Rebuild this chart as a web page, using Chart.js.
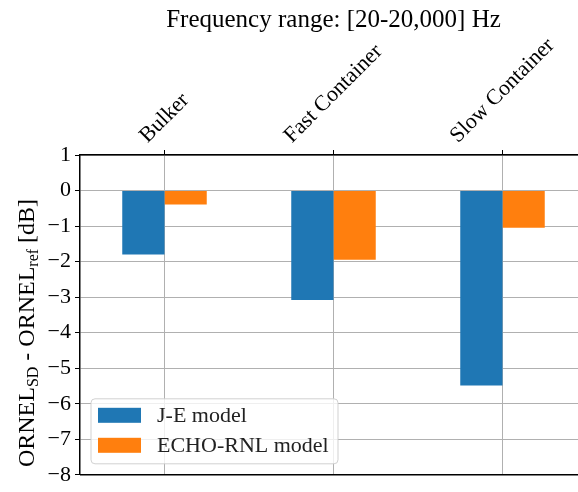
<!DOCTYPE html>
<html>
<head>
<meta charset="utf-8">
<script src="https://cdn.jsdelivr.net/npm/chart.js@4/dist/chart.umd.min.js"></script>
<style>
html,body{margin:0;padding:0;background:#fff;overflow:hidden;width:578px;height:492px;}
#wrap{position:absolute;left:0;top:0;width:600px;height:492px;}
</style>
</head>
<body>
<div id="wrap"><canvas id="c" width="600" height="492"></canvas></div>
<script>
// ---- data ----
const categories = ['Bulker', 'Fast Container', 'Slow Container'];
const seriesNames = ['J-E model', 'ECHO-RNL model'];
const jeValues = [-1.80, -3.08, -5.49];
const echoValues = [-0.39, -1.95, -1.05];
const yMin = -8, yMax = 1, yStep = 1;
const titleText = 'Frequency range: [20-20,000] Hz';
const yLabelParts = [['ORNEL', false], ['SD', true], [' - ORNEL', false], ['ref', true], [' [dB]', false]];
const colors = ['#1f77b4', '#ff7f0e'];

const SERIF = '"Liberation Serif", "Times New Roman", serif';

const overlay = {
  id: 'overlay',
  afterDraw(chart) {
    const ctx = chart.ctx;
    const ca = chart.chartArea;
    const xs = chart.scales.x;
    ctx.save();
    // bottom spine
    ctx.strokeStyle = '#000';
    ctx.lineWidth = 1.5;
    ctx.beginPath();
    ctx.moveTo(ca.left, ca.bottom);
    ctx.lineTo(ca.right, ca.bottom);
    ctx.stroke();

    // title
    ctx.fillStyle = '#000';
    ctx.font = '25px ' + SERIF;
    ctx.textAlign = 'center';
    ctx.textBaseline = 'alphabetic';
    ctx.fillText(titleText, (ca.left + ca.right) / 2, 27);

    // category labels rotated 45deg, centered on tick
    const cf = 22;
    ctx.font = cf + 'px ' + SERIF;
    categories.forEach((lab, i) => {
      const x = xs.getPixelForValue(i);
      const w = ctx.measureText(lab).width;
      const h = cf * 0.85;
      const bb = (w + h) * Math.SQRT1_2;
      const cy = ca.top - 9 - bb / 2;
      ctx.save();
      ctx.translate(x, cy);
      ctx.rotate(-Math.PI / 4);
      ctx.textAlign = 'center';
      ctx.textBaseline = 'middle';
      ctx.fillText(lab, 0, 0);
      ctx.restore();
    });

    // y label with subscripts
    const big = 24, small = 16;
    let total = 0;
    yLabelParts.forEach(([t, sub]) => {
      ctx.font = (sub ? small : big) + 'px ' + SERIF;
      total += ctx.measureText(t).width;
    });
    ctx.save();
    ctx.translate(34, 333);
    ctx.rotate(-Math.PI / 2);
    ctx.textAlign = 'left';
    ctx.textBaseline = 'alphabetic';
    let px = -total / 2;
    yLabelParts.forEach(([t, sub]) => {
      ctx.font = (sub ? small : big) + 'px ' + SERIF;
      ctx.fillText(t, px, sub ? 4 : 0);
      px += ctx.measureText(t).width;
    });
    ctx.restore();

    // legend (lower left, inside axes)
    const lx = ca.left + 11, ly = ca.bottom - 11 - 65, lw = 247, lh = 65;
    ctx.fillStyle = 'rgba(255,255,255,0.8)';
    ctx.strokeStyle = 'rgba(204,204,204,0.9)';
    ctx.lineWidth = 1;
    ctx.beginPath();
    ctx.roundRect(lx, ly, lw, lh, 4);
    ctx.fill();
    ctx.stroke();
    ctx.font = '22px ' + SERIF;
    ctx.textAlign = 'left';
    ctx.textBaseline = 'middle';
    seriesNames.forEach((name, i) => {
      const ry = ly + 9 + i * 30;
      ctx.fillStyle = colors[i];
      ctx.fillRect(lx + 7, ry, 43, 15);
      ctx.fillStyle = '#222';
      ctx.fillText(name, lx + 66, ry + 8);
    });
    ctx.restore();
  }
};

new Chart(document.getElementById('c'), {
  type: 'bar',
  data: {
    labels: categories,
    datasets: [
      { label: seriesNames[0], data: jeValues, backgroundColor: colors[0], borderWidth: 0 },
      { label: seriesNames[1], data: echoValues, backgroundColor: colors[1], borderWidth: 0 }
    ]
  },
  options: {
    responsive: false,
    animation: false,
    devicePixelRatio: 1,
    layout: { padding: { left: 0, top: 0, right: 13, bottom: 9 } },
    datasets: { bar: { categoryPercentage: 0.5, barPercentage: 1.0 } },
    plugins: { legend: { display: false }, title: { display: false }, tooltip: { enabled: false } },
    scales: {
      x: {
        position: 'top',
        z: 1,
        offset: true,
        grid: { color: '#b0b0b0', lineWidth: 1, offset: false, drawTicks: true, tickLength: 5, tickColor: '#000', tickWidth: 1 },
        border: { display: true, color: '#000', width: 1.5 },
        ticks: { display: false },
        afterFit(s) { s.height = 155; }
      },
      y: {
        min: yMin, max: yMax,
        z: 1,
        grid: { color: '#b0b0b0', lineWidth: 1, drawTicks: true, tickLength: 5, tickColor: '#000', tickWidth: 1 },
        border: { display: true, color: '#000', width: 1.5 },
        ticks: {
          stepSize: yStep,
          color: '#000',
          padding: 4,
          font: { family: SERIF, size: 22 },
          callback: v => (v < 0 ? '\u2212' + Math.abs(v) : String(v))
        },
        afterFit(s) { s.width = 80; }
      }
    }
  },
  plugins: [overlay]
});
</script>
</body>
</html>
